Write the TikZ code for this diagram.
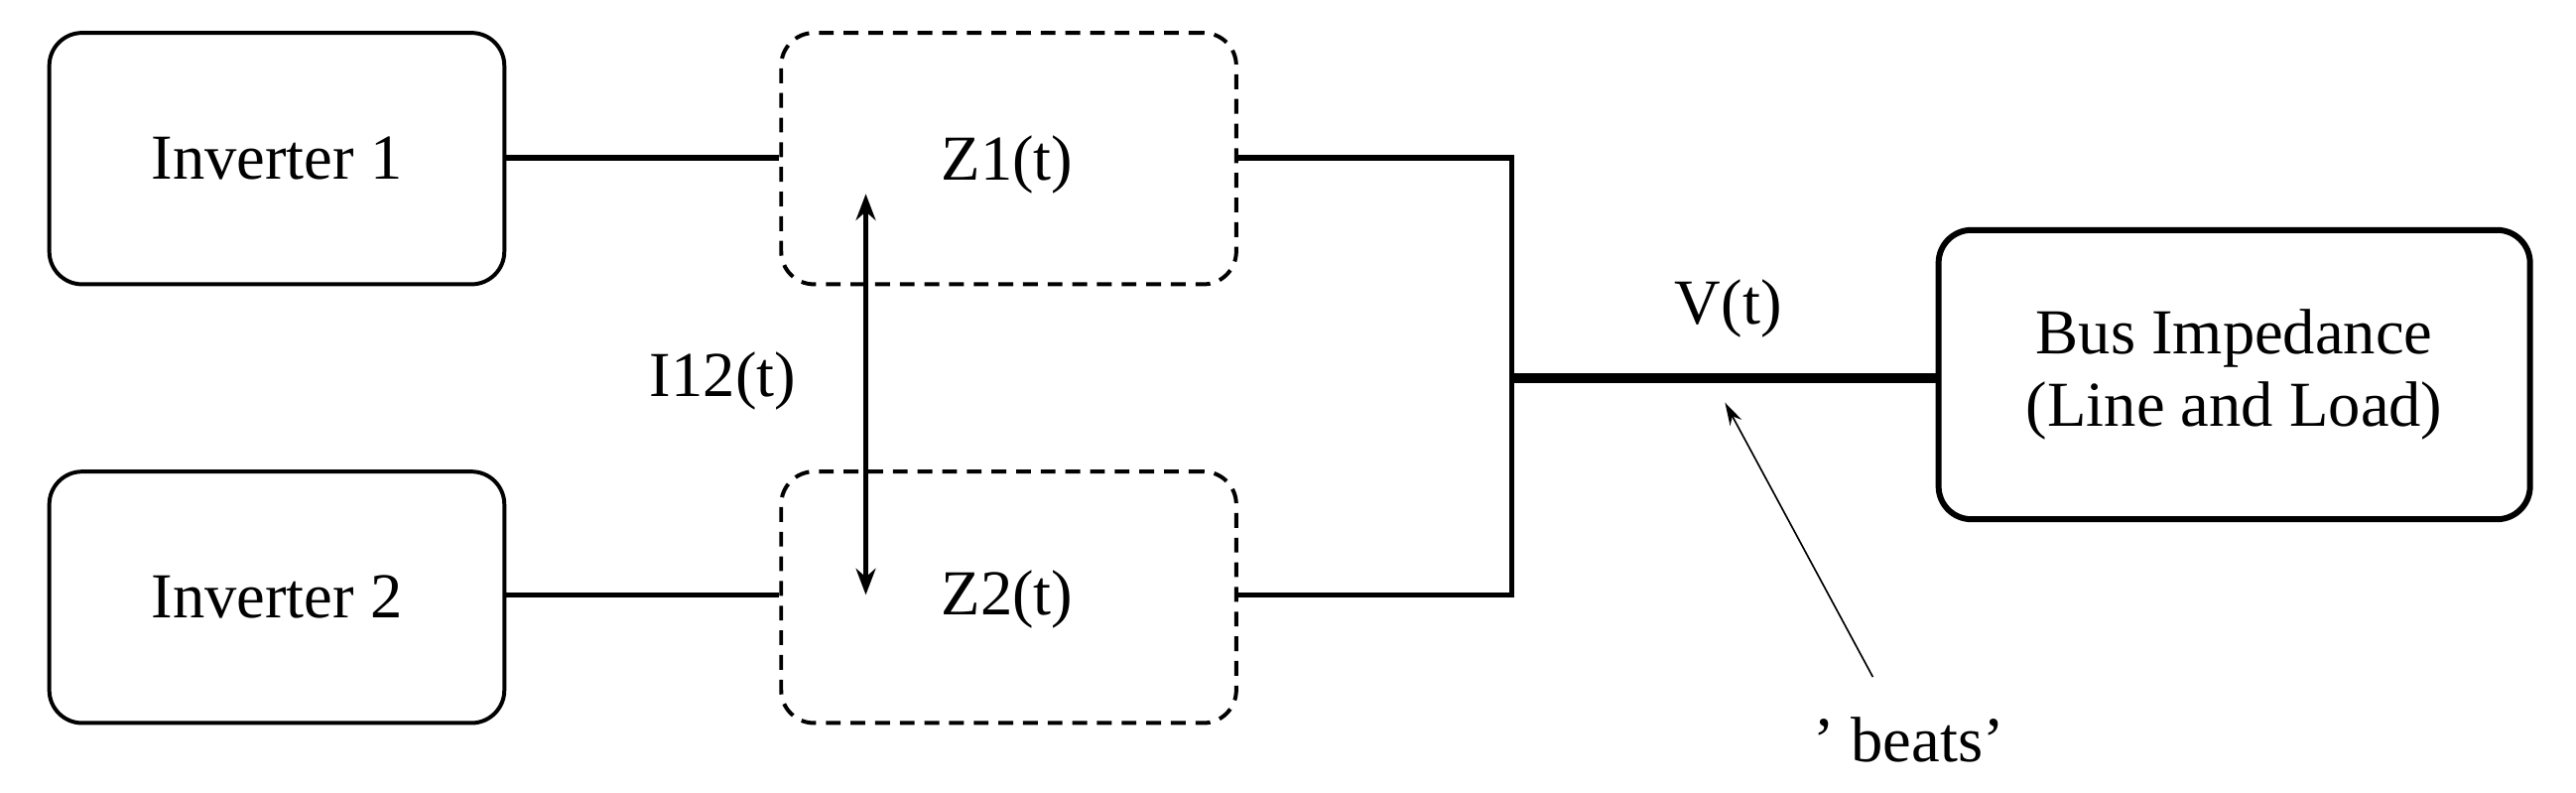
\documentclass[tikz,border=0pt]{standalone}
\usepackage{fontspec}
\setmainfont{Liberation Serif}
\usetikzlibrary{arrows.meta}
\begin{document}
\begin{tikzpicture}[x=0.5pt,y=-0.5pt,
  box/.style={draw,line width=1.2pt,rounded corners=10pt,minimum width=138.5pt,minimum height=76.5pt,font=\fontsize{19.5}{22}\selectfont},
  zbox/.style={box,dash pattern=on 4.5pt off 3pt},
  wire/.style={line width=1.6pt},
  lbl/.style={font=\fontsize{19.5}{22}\selectfont}]
\useasboundingbox (0,0) rectangle (1568,482);
\node[box] (i1) at (168.5,96.5) {Inverter 1};
\node[box] (i2) at (168.5,363.5) {Inverter 2};
\node[zbox] (z1) at (614,96.5) {};
\node[zbox] (z2) at (614,363.5) {};
\node[lbl] at (613,100) {Z1(t)};
\node[lbl] at (613,365) {Z2(t)};
\node[box,line width=1.8pt,minimum width=180pt,minimum height=88pt,align=center] (bus) at (1360,228) {Bus Impedance\\(Line and Load)};
\coordinate (j1) at (920,96);
\coordinate (j2) at (920,362);
\coordinate (jm) at (920,230);
\draw[wire] (i1.east|-0,96) -- (z1.west|-0,96);
\draw[wire] (i2.east|-0,362) -- (z2.west|-0,362);
\draw[wire] (z1.east|-0,96) -- (j1) -- (j2) -- (z2.east|-0,362);
\draw[line width=3pt] (jm) -- (bus.west|-jm);
\coordinate (a1) at (527,118);
\coordinate (a2) at (527,362);
\draw[wire,{Stealth[length=8pt,width=6pt]}-{Stealth[length=8pt,width=6pt]}] (a1) -- (a2);
\node[lbl] at (440,232) {I12(t)};
\node[lbl] (v) at (1052,188) {V(t)};
\node[lbl] (beats) at (1162,450) {\textquoteright\ beats\textquoteright};
\coordinate (bt) at (1140,412);
\coordinate (bh) at (1050,245);
\draw[line width=0.5pt,-{Stealth[length=7pt,width=4pt]}] (bt) -- (bh);
\end{tikzpicture}
\end{document}
